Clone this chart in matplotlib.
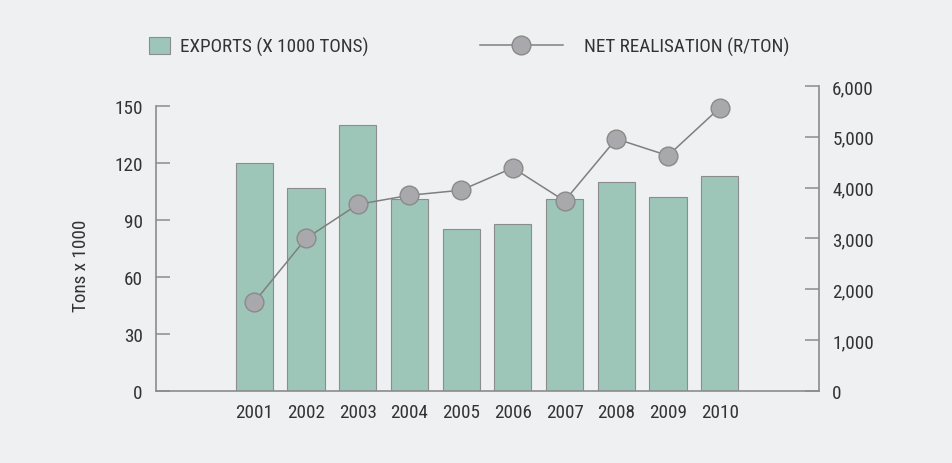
import matplotlib.pyplot as plt
from matplotlib.lines import Line2D
from matplotlib.patches import Patch
from matplotlib.ticker import FuncFormatter

years = ['2001', '2002', '2003', '2004', '2005', '2006', '2007', '2008', '2009', '2010']
exports = [120, 107, 140, 101, 85, 88, 101, 110, 102, 113]
net_realisation = [1750, 3000, 3670, 3850, 3950, 4390, 3740, 4960, 4630, 5570]
left_ticks = [0, 30, 60, 90, 120, 150]
right_ticks = [0, 1000, 2000, 3000, 4000, 5000, 6000]

bg = '#eff0f2'
bar_color = '#9dc5b8'
grey = '#8c8c8c'
text_color = '#333333'
size = 13.8

plt.rcParams['font.family'] = ['Roboto Condensed', 'Roboto', 'DejaVu Sans']
plt.rcParams['font.size'] = size

fig = plt.figure(figsize=(9.52, 4.64), dpi=100, facecolor=bg)
ax = fig.add_axes([0.1639, 0.1552, 0.6964, 0.6573])
ax.set_facecolor(bg)

x = list(range(len(years)))
ax.bar(x, exports, width=0.72, color=bar_color, edgecolor=grey, linewidth=0.8)
ax.set_xlim(-1.9, 10.92)
ax.set_ylim(0, 150 * 305 / 285)
ax.set_yticks(left_ticks)
ax.set_xticks(x)
ax.set_xticklabels(years)
ax.set_ylabel('Tons x 1000', color=text_color)
ax.yaxis.set_label_coords(-0.1, 0.415)

for s in ['top', 'right']:
    ax.spines[s].set_visible(False)
ax.spines['left'].set_bounds(0, 150)
for s in ['left', 'bottom']:
    ax.spines[s].set_color(grey)
    ax.spines[s].set_linewidth(1.2)
ax.tick_params(axis='y', direction='in', length=10, width=1.1, color=grey,
               pad=9.5, labelcolor=text_color)
ax.tick_params(axis='x', length=0, pad=9, labelcolor=text_color)

ax2 = ax.twinx()
ax2.plot(x, net_realisation, color='#7f7f7f', linewidth=1.1, marker='o',
         markersize=13.5, markerfacecolor='#a9a9ad', markeredgecolor='#8a8a8a',
         markeredgewidth=1.0)
ax2.set_ylim(0, 6000)
ax2.set_yticks(right_ticks)
ax2.yaxis.set_major_formatter(FuncFormatter(lambda v, p: f'{int(v):,}'))
for s in ['top', 'left', 'bottom']:
    ax2.spines[s].set_visible(False)
ax2.spines['right'].set_color(grey)
ax2.spines['right'].set_linewidth(1.2)
ax2.tick_params(axis='y', direction='in', length=10, width=1.1, color=grey,
                pad=9.5, labelcolor=text_color)

# legend, two separate pieces like the original
fs = size * 100 / 72
h1 = [Patch(facecolor=bar_color, edgecolor=grey, linewidth=0.8)]
fig.legend(h1, ['EXPORTS (X 1000 TONS)'], loc='center left',
           bbox_to_anchor=(0.1565, 0.898), frameon=False, borderpad=0,
           borderaxespad=0, handlelength=21 / fs, handleheight=19 / fs,
           handletextpad=10 / fs, labelcolor=text_color)
h2 = [Line2D([], [], color='#7f7f7f', linewidth=1.1, marker='o', markersize=13.5,
             markerfacecolor='#a9a9ad', markeredgecolor='#8a8a8a')]
fig.legend(h2, ['NET REALISATION (R/TON)'], loc='center left',
           bbox_to_anchor=(0.504, 0.898), frameon=False, borderpad=0,
           borderaxespad=0, handlelength=83 / fs, handletextpad=21 / fs,
           numpoints=1, labelcolor=text_color)

fig.savefig('out.png', dpi=100, facecolor=bg)
